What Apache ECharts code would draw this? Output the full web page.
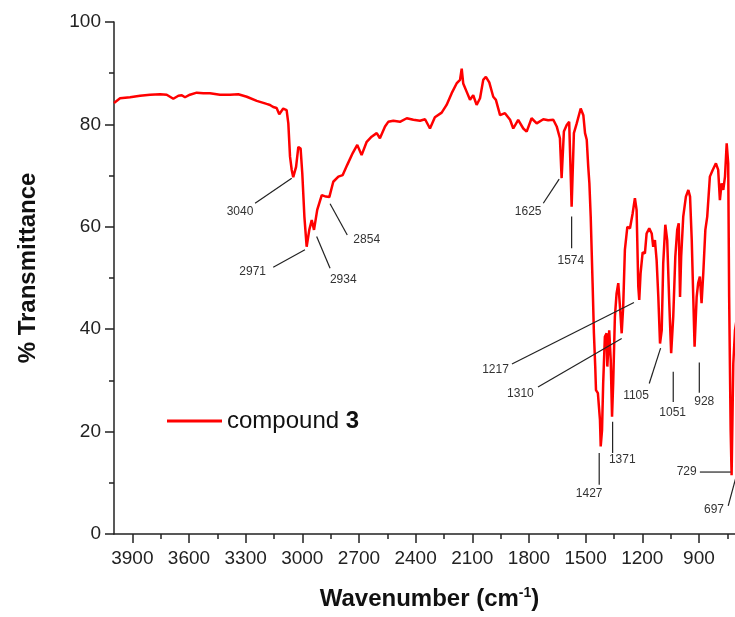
<!DOCTYPE html>
<html><head><meta charset="utf-8">
<script src="https://cdn.jsdelivr.net/npm/echarts@6.0.0/dist/echarts.min.js"></script>
<style>html,body{margin:0;padding:0;background:#fff}#c{width:735px;height:617px}</style>
</head><body><div id="c"></div>
<script>
// Spectrum: wavenumber (cm-1) and % transmittance
const wavenumber = [3997,3965,3912,3859,3806,3753,3718,3683,3656,3638,3621,3595,3559,3524,3489,3436,3383,3339,3294,3241,3189,3171,3154,3136,3122,3101,3083,3074,3065,3056,3048,3033,3021,3009,3000,2989,2977,2963,2950,2938,2921,2897,2875,2857,2836,2809,2786,2762,2733,2709,2686,2659,2633,2606,2589,2562,2545,2518,2483,2447,2412,2377,2350,2324,2298,2262,2236,2209,2183,2165,2156,2148,2130,2112,2095,2077,2059,2042,2028,2010,1989,1975,1953,1927,1900,1883,1857,1830,1812,1786,1759,1724,1698,1671,1653,1636,1627,1615,1600,1587,1574,1562,1547,1526,1512,1503,1494,1486,1480,1473,1463,1456,1449,1445,1435,1424,1420,1413,1407,1398,1389,1385,1375,1367,1360,1354,1345,1336,1327,1318,1309,1301,1292,1279,1265,1251,1239,1230,1221,1216,1209,1198,1186,1177,1163,1150,1142,1133,1124,1115,1106,1097,1089,1078,1068,1057,1047,1036,1025,1015,1007,1000,994,983,969,956,947,938,930,923,912,904,895,886,877,866,856,842,827,810,798,789,780,771,762,753,745,740,732,727,718,709,700];
const transmittance = [84.2,85.1,85.3,85.6,85.8,85.9,85.8,85.0,85.6,85.7,85.3,85.8,86.2,86.1,86.1,85.8,85.8,85.9,85.4,84.6,84.0,83.8,83.4,83.2,82.0,83.1,82.8,80.2,73.7,71.1,69.7,71.7,75.6,75.3,70.4,62.0,56.1,59.4,61.3,59.4,63.3,66.2,65.9,65.8,68.8,69.8,70.1,72.1,74.4,76.0,74.0,76.6,77.6,78.3,77.3,79.6,80.5,80.7,80.5,81.2,80.9,80.7,81.0,79.2,81.4,82.3,83.8,86.1,88.0,88.7,90.9,88.0,86.4,84.8,85.7,83.8,85.1,88.7,89.3,88.2,85.4,84.8,81.8,82.2,80.9,79.2,80.9,79.2,78.6,81.2,80.2,81.0,80.8,80.9,79.6,77.3,69.5,78.6,79.9,80.5,63.9,78.3,80.2,83.1,81.8,78.3,77.0,71.7,68.5,62.0,49.0,39.2,32.7,28.1,27.5,22.3,17.1,20.3,29.4,38.5,39.2,32.7,39.8,34.0,22.9,29.4,42.4,47.0,49.0,44.4,39.2,44.4,55.5,60.0,59.7,62.6,65.6,63.3,48.3,45.7,50.9,55.0,54.8,58.7,59.7,58.7,56.1,57.4,53.5,46.3,37.2,39.8,52.9,60.4,57.4,45.1,35.3,42.4,54.2,59.4,60.7,46.3,54.2,62.0,65.9,67.2,65.9,57.4,46.3,36.6,46.3,49.0,50.3,45.1,50.9,59.4,62.0,69.8,71.1,72.4,71.1,65.2,68.5,67.2,69.8,76.3,72.4,46.3,20.3,11.5,33.3,39.8,42.0];

const seriesName = 'compound 3';
const xTickValues = [3900,3600,3300,3000,2700,2400,2100,1800,1500,1200,900];
const xMinorTickValues = [3750,3450,3150,2850,2550,2250,1950,1650,1350,1050,750];
const yTickValues = [0,20,40,60,80,100];

// Peak annotations: label text, label centre [cm-1, %T], leader line [cm-1, %T, cm-1, %T]
const peakLabels = ['3040','2971','2934','2854','1625','1574','1427','1371','1310','1217','1105','1051','928','729','697'];
const peakLabelPos = [[3330,62.9],[3263,51.2],[2783,49.6],[2659,57.4],[1804,62.9],[1578,53.3],[1481,7.9],[1306,14.5],[1845,27.5],[1977,32.0],[1233,27.1],[1039,23.6],[872,25.8],[965,12.1],[820,4.8]];
const peakLeaders = [[3250,64.6,3056,69.5],[3154,52.1,2986,55.5],[2924,58.1,2853,51.9],[2853,64.5,2762,58.4],[1724,64.6,1640,69.3],[1574,62.0,1574,55.8],[1428,15.8,1428,9.6],[1357,21.9,1357,15.8],[1752,28.7,1309,38.2],[1890,33.2,1244,45.2],[1163,29.4,1103,36.3],[1036,31.7,1036,25.8],[898,33.5,898,27.6],[895,12.1,732,12.1],[745,5.5,690,13.0]];

const chart = echarts.init(document.getElementById('c'));
const FONT = '"Liberation Sans", Arial, sans-serif';
const axisColor = '#222';
const plain = v => String(v);
const spectrum = wavenumber.map((w, i) => [w, transmittance[i]]);
const annotData = peakLabels.map((t, i) => [peakLabelPos[i][0], peakLabelPos[i][1]].concat(peakLeaders[i]));

chart.setOption({
  animation: false,
  backgroundColor: '#fff',
  textStyle: { fontFamily: FONT },
  grid: { left: 114, right: 0, top: 22, bottom: 83, containLabel: false },
  legend: {
    show: true,
    left: 167, top: 409, padding: 0,
    itemWidth: 55, itemHeight: 3,
    icon: 'rect',
    data: [seriesName],
    formatter: function () { return 'compound {b|3}'; },
    textStyle: { fontSize: 24, color: '#111', fontFamily: FONT,
      rich: { b: { fontSize: 24, fontWeight: 'bold', color: '#111', fontFamily: FONT } } }
  },
  xAxis: [{
    type: 'value', inverse: true, min: 709, max: 3997,
    position: 'bottom',
    axisLine: { show: true, onZero: false, lineStyle: { color: axisColor, width: 1.5 } },
    axisTick: { show: true, length: 9, customValues: xTickValues, lineStyle: { color: axisColor, width: 1.5 } },
    axisLabel: { show: true, customValues: xTickValues, formatter: plain, fontSize: 19, color: axisColor, margin: 15, fontFamily: FONT },
    splitLine: { show: false },
    name: 'Wavenumber (cm{sup|-1})',
    nameLocation: 'middle', nameGap: 52,
    nameTextStyle: { fontSize: 24, fontWeight: 'bold', color: '#111', lineHeight: 26, fontFamily: FONT, padding: [0, 0, 0, 10],
      rich: { sup: { fontSize: 14, fontWeight: 'bold', color: '#111', verticalAlign: 'top', lineHeight: 14, fontFamily: FONT } } }
  }, {
    type: 'value', inverse: true, min: 709, max: 3997,
    position: 'bottom',
    axisLine: { show: false },
    axisTick: { show: true, length: 5, customValues: xMinorTickValues, lineStyle: { color: axisColor, width: 1.5 } },
    axisLabel: { show: false },
    splitLine: { show: false }
  }],
  yAxis: {
    type: 'value', min: 0, max: 100, interval: 20,
    axisLine: { show: true, onZero: false, lineStyle: { color: axisColor, width: 1.5 } },
    axisTick: { show: true, length: 9, lineStyle: { color: axisColor, width: 1.5 } },
    minorTick: { show: true, splitNumber: 2, length: 5, lineStyle: { color: axisColor, width: 1.5 } },
    axisLabel: { fontSize: 19, color: axisColor, margin: 13, fontFamily: FONT, formatter: plain,
      customValues: yTickValues },
    splitLine: { show: false },
    name: '% Transmittance',
    nameLocation: 'middle', nameGap: 74, nameRotate: 90,
    nameTextStyle: { fontSize: 24, fontWeight: 'bold', color: '#111', fontFamily: FONT, padding: [0, 0, 0, 20] }
  },
  series: [{
    name: seriesName,
    type: 'line',
    xAxisIndex: 0,
    data: spectrum,
    symbol: 'none', showSymbol: false,
    color: '#ff0000',
    lineStyle: { color: '#ff0000', width: 2.5 },
    clip: true,
    z: 2
  }, {
    type: 'custom',
    xAxisIndex: 0,
    silent: true,
    data: annotData,
    z: 3,
    renderItem: function (params, api) {
      const i = params.dataIndex;
      const p = api.coord([api.value(0), api.value(1)]);
      const a = api.coord([api.value(2), api.value(3)]);
      const b = api.coord([api.value(4), api.value(5)]);
      return { type: 'group', children: [
        { type: 'line', shape: { x1: a[0], y1: a[1], x2: b[0], y2: b[1] }, style: { stroke: '#222', lineWidth: 1.2 } },
        { type: 'text', x: p[0], y: p[1], style: { text: peakLabels[i], fill: '#333', font: '12px ' + FONT, align: 'center', verticalAlign: 'middle' } }
      ] };
    }
  }]
});
</script></body></html>
